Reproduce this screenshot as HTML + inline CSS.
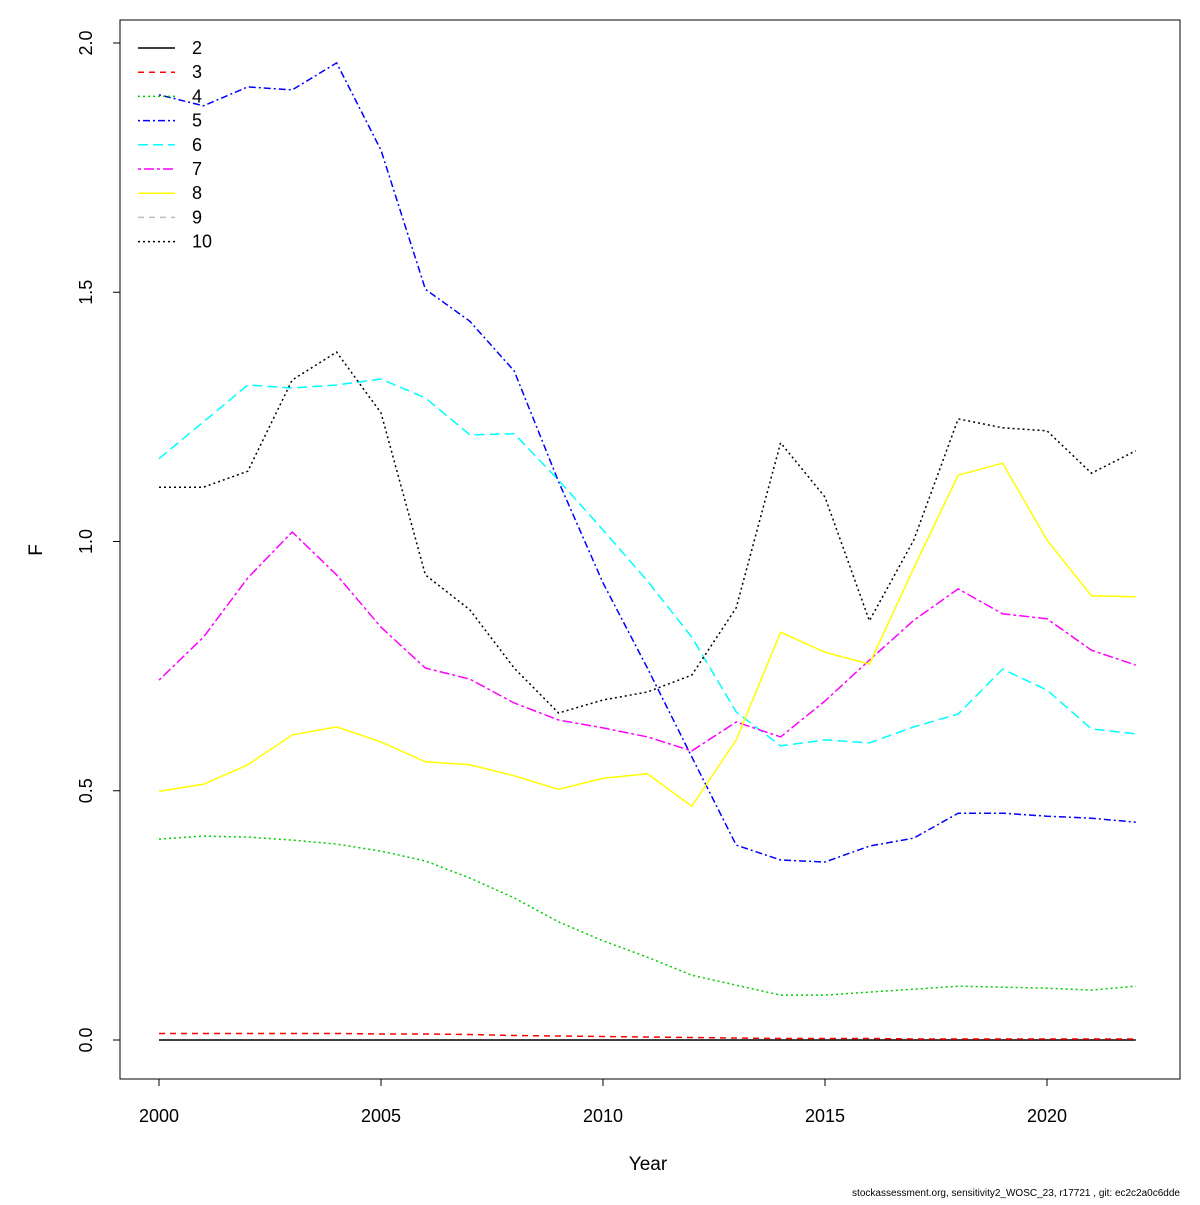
<!DOCTYPE html>
<html><head><meta charset="utf-8"><style>
body{margin:0;background:#fff}
svg text{font-family:"Liberation Sans",sans-serif;fill:#000}
</style></head><body>
<svg id="chart" width="1200" height="1200" viewBox="0 0 1200 1200" xmlns="http://www.w3.org/2000/svg">
<rect x="0" y="0" width="1200" height="1200" fill="#fff"/>
<rect x="120" y="20" width="1060" height="1059" fill="none" stroke="#000" stroke-width="1"/>
<g id="axes"></g>
<g id="series"></g>
<g id="legend"></g>
<text x="1180" y="1196" font-size="10" text-anchor="end">stockassessment.org, sensitivity2_WOSC_23, r17721 , git: ec2c2a0c6dde</text>
</svg>
<script>
const years=[2000,2001,2002,2003,2004,2005,2006,2007,2008,2009,2010,2011,2012,2013,2014,2015,2016,2017,2018,2019,2020,2021,2022];
const age2=[0,0,0,0,0,0,0,0,0,0,0,0,0,0,0,0,0,0,0,0,0,0,0];
const age3=[0.013,0.013,0.013,0.013,0.013,0.012,0.012,0.011,0.009,0.008,0.007,0.006,0.005,0.004,0.003,0.003,0.003,0.002,0.002,0.002,0.002,0.002,0.002];
const age4=[0.403,0.409,0.407,0.401,0.393,0.379,0.359,0.325,0.285,0.237,0.199,0.166,0.130,0.110,0.090,0.090,0.096,0.102,0.108,0.106,0.104,0.100,0.108];
const age5=[1.896,1.874,1.912,1.906,1.960,1.785,1.506,1.442,1.342,1.120,0.917,0.746,0.568,0.391,0.361,0.357,0.389,0.405,0.455,0.455,0.449,0.445,0.437];
const age6=[1.166,1.240,1.314,1.308,1.314,1.326,1.288,1.214,1.216,1.123,1.023,0.921,0.808,0.658,0.590,0.602,0.596,0.628,0.654,0.744,0.702,0.624,0.614];
const age7=[0.722,0.808,0.927,1.019,0.933,0.828,0.746,0.724,0.676,0.642,0.626,0.608,0.580,0.638,0.608,0.680,0.762,0.842,0.905,0.855,0.845,0.782,0.752];
const age8=[0.499,0.513,0.552,0.612,0.628,0.598,0.558,0.552,0.530,0.503,0.525,0.534,0.469,0.602,0.818,0.778,0.754,0.947,1.133,1.157,1.003,0.891,0.889];
const age10=[1.109,1.109,1.141,1.324,1.380,1.258,0.933,0.863,0.746,0.656,0.682,0.698,0.732,0.867,1.198,1.089,0.841,1.003,1.246,1.228,1.222,1.137,1.182];
const xTicks=[2000,2005,2010,2015,2020];
const yTicks=[0.0,0.5,1.0,1.5,2.0];
const yTickLabels=["0.0","0.5","1.0","1.5","2.0"];
const legendLabels=["2","3","4","5","6","7","8","9","10"];

const NS="http://www.w3.org/2000/svg";
function xs(v){return 159+(v-2000)*44.4;}
function ys(v){return 1040-v*498.5;}
function mk(tag,attrs,parent){const e=document.createElementNS(NS,tag);for(const k in attrs)e.setAttribute(k,attrs[k]);parent.appendChild(e);return e;}
const axes=document.getElementById('axes');
mk('line',{x1:xs(2000),x2:xs(2020),y1:1079,y2:1079,stroke:'#000'},axes);
xTicks.forEach(t=>{
  const l=mk('line',{x1:xs(t),x2:xs(t),y1:1079,y2:1086,stroke:'#000'},axes);
  
  
  const tx=mk('text',{x:xs(t),y:1122,'font-size':18,'text-anchor':'middle'},axes);
  tx.textContent=t;
  
  
});
mk('line',{x1:120,x2:120,y1:ys(0),y2:ys(2),stroke:'#000'},axes);
yTicks.forEach((t,i)=>{
  const l=mk('line',{x1:113,x2:120,y1:ys(t),y2:ys(t),stroke:'#000'},axes);
  
  
  const tx=mk('text',{x:0,y:0,'font-size':18,'text-anchor':'middle',transform:`translate(92,${ys(t)}) rotate(-90)`},axes);
  tx.textContent=yTickLabels[i];
  
  
});
const xt=mk('text',{x:648,y:1170,'font-size':19,'text-anchor':'middle'},axes);
xt.textContent='Year';


const yt=mk('text',{x:0,y:0,'font-size':19,'text-anchor':'middle',transform:'translate(42,550) rotate(-90)'},axes);
yt.textContent='F';



const styles=[
 {c:'#000',d:''},{c:'#ff0000',d:'6 5'},{c:'#00cd00',d:'2 3'},{c:'#0000ff',d:'2 3 7 3'},
 {c:'#00ffff',d:'10 5'},{c:'#ff00ff',d:'3 3 10 3'},{c:'#ffff00',d:''},{c:'#bebebe',d:'6 5'},{c:'#000',d:'2 3'}];
const seriesData=[age2,age3,age4,age5,age6,age7,age8,null,age10];
const sg=document.getElementById('series');
seriesData.forEach((arr,i)=>{
  if(!arr)return;
  const pts=arr.map((v,j)=>xs(years[j]).toFixed(1)+','+ys(v).toFixed(1)).join(' ');
  const p=mk('polyline',{points:pts,fill:'none',stroke:styles[i].c,'stroke-width':1.5,'stroke-dasharray':styles[i].d},sg);
  
  
});
const lg=document.getElementById('legend');
legendLabels.forEach((lab,i)=>{
  const y=48+i*24.2;
  const g=mk('g',{},lg);
  
  
  mk('line',{x1:138,x2:175,y1:y,y2:y,stroke:styles[i].c,'stroke-width':1.5,'stroke-dasharray':styles[i].d},g);
  const t=mk('text',{x:192,y:y+6,'font-size':18},g);
  t.textContent=lab;
});
</script>
</body></html>
